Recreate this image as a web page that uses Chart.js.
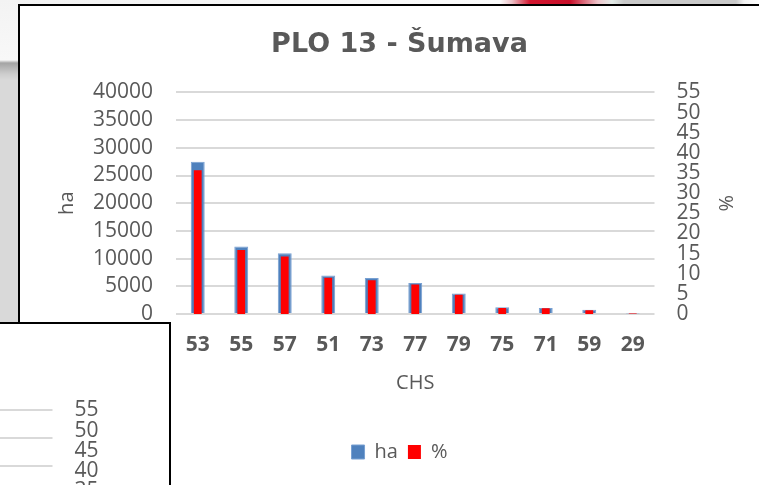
<!DOCTYPE html>
<html>
<head>
<meta charset="utf-8">
<script src="https://cdn.jsdelivr.net/npm/chart.js@4.4.1/dist/chart.umd.min.js"></script>
<style>
  html, body { margin: 0; padding: 0; width: 759px; height: 485px; overflow: hidden; background: #ffffff; }
  body { position: relative; }
  #bgtop { position: absolute; left: 0; top: 0; width: 759px; height: 6px;
    background: linear-gradient(to right, #f1f1f1 0px, #fbfbfb 500px, #ecc0c6 512px, #d3162f 530px, #c80f2a 570px, #eec5cb 598px, #e3ece8 612px, #c9c9c9 624px, #c9c9c9 736px, #f2f2f2 744px, #ffffff 759px); }
  #bgleft { position: absolute; left: 0; top: 0; width: 20px; height: 330px;
    background: linear-gradient(to bottom, #f3f3f3 0px, #f8f8f8 60px, #a4a4a4 63px, #cdcdcd 74px, #d9d9d9 80px, #d9d9d9 330px); }
  .box { position: absolute; border: 2px solid #000; background: #fff; width: 751px; height: 495px; }
  canvas { display: block; }
</style>
</head>
<body>
<div id="bgtop"></div>
<div id="bgleft"></div>
<div class="box" style="left:18px; top:4px;"><canvas id="mainChart" width="751" height="479"></canvas></div>
<div class="box" style="left:-584px; top:322px;"><canvas id="backChart" width="751" height="479"></canvas></div>
<script>
// ---- data ----
const categories = ['53', '55', '57', '51', '73', '77', '79', '75', '71', '59', '29'];
const haValues   = [27500, 12200, 10950, 6950, 6500, 5600, 3700, 1200, 1100, 750, 100];
const pctValues  = [35.7, 15.9, 14.3, 9.0, 8.4, 7.3, 4.8, 1.5, 1.4, 0.9, 0.1];
const chartTitle = 'PLO 13 - Šumava';
const seriesNames = ['ha', '%'];
const xTitle = 'CHS';
const haAxis  = [0, 40000, 5000];   // min, max, step
const pctAxis = [0, 55, 5];

// the partly hidden chart behind (only its right axis is visible)
const backCategories = [];
const backHa = [];
const backPct = [];

const GREY = '#595959';
const FONT = 'Open Sans';
const plain = (v) => String(v);

function makeConfig(labels, ha, pct, titleText) {
  return {
    type: 'bar',
    data: {
      labels: labels,
      datasets: [
        { label: seriesNames[0], data: ha, yAxisID: 'y', backgroundColor: '#4f81bd', borderColor: '#78a0d2',
          borderWidth: 1, barPercentage: 0.32, categoryPercentage: 1, grouped: false, order: 1 },
        { label: seriesNames[1], data: pct, yAxisID: 'y1', backgroundColor: '#ff0000', borderColor: '#ff0000',
          borderWidth: 0, barPercentage: 0.18, categoryPercentage: 1, grouped: false, order: 0 }
      ]
    },
    options: {
      responsive: false,
      animation: false,
      events: [],
      layout: { padding: { left: 8, right: 0, top: 0, bottom: 13 } },
      plugins: {
        title: { display: true, text: titleText, color: GREY,
                 font: { family: 'DejaVu Sans', size: 27, weight: 'bold' },
                 padding: { top: 23, bottom: 31 } },
        legend: { position: 'bottom',
                  labels: { boxWidth: 13, boxHeight: 14, color: GREY, padding: 10,
                            font: { family: FONT, size: 20 },
                            sort: (a, b) => a.datasetIndex - b.datasetIndex } },
        tooltip: { enabled: false }
      },
      scales: {
        x: {
          grid: { display: false, drawTicks: false },
          border: { display: false },
          ticks: { color: GREY, font: { family: FONT, size: 21, weight: 'bold' }, padding: 18, maxRotation: 0 },
          title: { display: true, text: xTitle, color: GREY, font: { family: FONT, size: 20 },
                   padding: { top: 13, bottom: 37 } },
          afterFit: (s) => { s.height = 118; }
        },
        y: {
          position: 'left',
          min: haAxis[0], max: haAxis[1],
          ticks: { stepSize: haAxis[2], autoSkip: false, callback: plain, color: GREY, font: { family: FONT, size: 21 }, padding: 23 },
          grid: { color: '#d9d9d9', lineWidth: 2, drawTicks: false },
          border: { display: false },
          title: { display: true, text: seriesNames[0], color: GREY, font: { family: FONT, size: 20 },
                   padding: { top: 27, bottom: 0 } },
          afterFit: (s) => { s.width = 148; }
        },
        y1: {
          position: 'right',
          min: pctAxis[0], max: pctAxis[1],
          ticks: { stepSize: pctAxis[2], autoSkip: false, callback: plain, color: GREY, font: { family: FONT, size: 21 }, padding: 22 },
          grid: { display: false, drawTicks: false },
          border: { display: false },
          title: { display: true, text: seriesNames[1], color: GREY, font: { family: FONT, size: 20 },
                   padding: { top: 34, bottom: 0 } },
          afterFit: (s) => { s.width = 116.5; }
        }
      }
    }
  };
}

new Chart(document.getElementById('backChart'), makeConfig(backCategories, backHa, backPct, ''));
new Chart(document.getElementById('mainChart'), makeConfig(categories, haValues, pctValues, chartTitle));
</script>
</body>
</html>
